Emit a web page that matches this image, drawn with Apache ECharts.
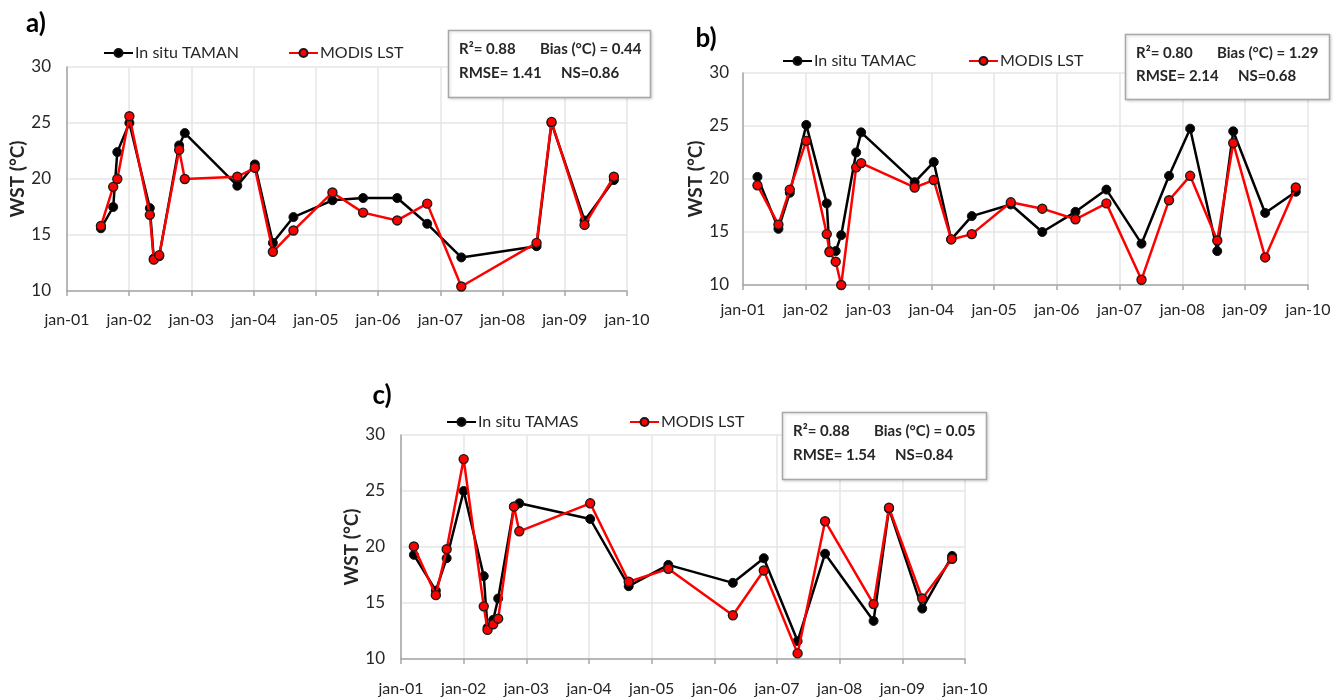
<!DOCTYPE html>
<html>
<head>
<meta charset="utf-8">
<title>WST: in situ vs MODIS LST</title>
<script src="https://cdn.jsdelivr.net/npm/echarts@6/dist/echarts.min.js"></script>
<style>
  html, body { margin: 0; padding: 0; background: #ffffff; }
  #chart { width: 1342px; height: 700px; }
</style>
</head>
<body>
<div id="chart"></div>
<script>
// ---- Data -----------------------------------------------------------------
// Station TAMAN (panel a)
const datesA = ['2001-07-19', '2001-09-29', '2001-10-23', '2002-01-02', '2002-05-02', '2002-05-25',
  '2002-06-26', '2002-10-21', '2002-11-23', '2003-09-27', '2004-01-08', '2004-04-23', '2004-08-22',
  '2005-04-08', '2005-10-05', '2006-04-23', '2006-10-16', '2007-05-04', '2008-07-19', '2008-10-15',
  '2009-04-27', '2009-10-16'];
const insituA = [15.6, 17.5, 22.4, 25.0, 17.4, 12.9, 13.1, 23.0, 24.1, 19.4, 21.3, 14.3, 16.6,
  18.1, 18.3, 18.3, 16.0, 13.0, 14.0, 25.0, 16.3, 19.9];
const modisA = [15.8, 19.3, 20.0, 25.6, 16.8, 12.8, 13.2, 22.6, 20.0, 20.2, 21.0, 13.5, 15.4,
  18.8, 17.0, 16.3, 17.8, 10.4, 14.3, 25.1, 15.9, 20.2];

// Station TAMAC (panel b)
const datesB = ['2001-03-26', '2001-07-26', '2001-09-30', '2002-01-04', '2002-05-03', '2002-05-19',
  '2002-06-24', '2002-07-26', '2002-10-21', '2002-11-19', '2003-09-26', '2004-01-15', '2004-04-26',
  '2004-08-24', '2005-04-08', '2005-10-08', '2006-04-19', '2006-10-16', '2007-05-08', '2007-10-15',
  '2008-02-15', '2008-07-22', '2008-10-23', '2009-04-27', '2009-10-22'];
const insituB = [20.2, 15.3, 18.7, 25.1, 17.7, 13.2, 13.2, 14.7, 22.5, 24.4, 19.7, 21.6, 14.3,
  16.5, 17.6, 15.0, 16.9, 19.0, 13.9, 20.3, 24.75, 13.2, 24.5, 16.8, 18.8];
const modisB = [19.4, 15.7, 19.0, 23.6, 14.8, 13.1, 12.2, 10.0, 21.1, 21.5, 19.2, 19.9, 14.3,
  14.8, 17.8, 17.2, 16.2, 17.7, 10.5, 18.0, 20.3, 14.2, 23.4, 12.6, 19.2];

// Station TAMAS (panel c)
const datesC = ['2001-03-17', '2001-07-23', '2001-09-24', '2002-01-01', '2002-04-28', '2002-05-20',
  '2002-06-22', '2002-07-21', '2002-10-21', '2002-11-21', '2004-01-08', '2004-08-20', '2005-04-08',
  '2006-04-19', '2006-10-16', '2007-05-01', '2007-10-08', '2008-07-17', '2008-10-15', '2009-04-27',
  '2009-10-18'];
const insituC = [19.3, 16.1, 19.0, 25.0, 17.4, 12.8, 13.5, 15.4, 23.6, 23.9, 22.5, 16.5, 18.4,
  16.8, 19.0, 11.6, 19.4, 13.4, 23.4, 14.5, 19.2];
const modisC = [20.05, 15.7, 19.8, 27.85, 14.7, 12.6, 13.1, 13.6, 23.6, 21.4, 23.9, 16.9, 18.05,
  13.9, 17.9, 10.5, 22.3, 14.9, 23.5, 15.4, 18.95];

// Axis ranges and tick labels
const yearMin = 2001, yearMax = 2010;
const tempMin = 10, tempMax = 30, tempStep = 5;
const insituNames = ['In situ TAMAN', 'In situ TAMAC', 'In situ TAMAS'];
const modisName = 'MODIS LST';
const panelTags = ['a)', 'b)', 'c)'];

// Goodness-of-fit statistics per station: [R², bias, RMSE, NS]
const statsA = ['0.88', '0.44', '1.41', '0.86'];
const statsB = ['0.80', '1.29', '2.14', '0.68'];
const statsC = ['0.88', '0.05', '1.54', '0.84'];

// ---- Helpers ---------------------------------------------------------------
function toYear(s) {
  const [y, m, d] = s.split('-').map(Number);
  const start = Date.UTC(y, 0, 1), end = Date.UTC(y + 1, 0, 1);
  return y + (Date.UTC(y, m - 1, d) - start) / (end - start);
}
function pairs(dates, vals) {
  return dates.map((d, i) => [toYear(d), vals[i]]);
}

const FONT = 'Lato, "Open Sans", "Liberation Sans", sans-serif';
const TEXT = '#262626';

// Plot areas in pixels
const panels = [
  { grid: { left: 67, top: 67, width: 560, height: 224 }, xMargin: 21, yMargin: 16, nameGap: 37,
    legend: [103, 45, 288], tag: [36, 24], box: [448, 30, 202, 67], stats: statsA,
    dates: datesA, insitu: insituA, modis: modisA },
  { grid: { left: 743, top: 73, width: 565, height: 212 }, xMargin: 17, yMargin: 14, nameGap: 37,
    legend: [782, 53, 968], tag: [706, 39], box: [1125, 34, 204, 65], stats: statsB,
    dates: datesB, insitu: insituB, modis: modisB },
  { grid: { left: 401, top: 435, width: 564, height: 224 }, xMargin: 22, yMargin: 16, nameGap: 34,
    legend: [446, 414, 629], tag: [382, 396], box: [782, 412, 204, 67], stats: statsC,
    dates: datesC, insitu: insituC, modis: modisC }
];

const grids = [], xAxes = [], yAxes = [], series = [], legends = [], graphics = [];

panels.forEach((p, i) => {
  grids.push(Object.assign({ containLabel: false }, p.grid));

  xAxes.push({
    type: 'value', gridIndex: i, min: yearMin, max: yearMax, interval: 1,
    axisLine: { show: true, lineStyle: { color: '#a6a6a6', width: 1.5 } },
    axisTick: { show: true, length: 5, lineStyle: { color: '#a6a6a6', width: 1.5 } },
    splitLine: { show: true, lineStyle: { color: '#e6e6e6', width: 1.5 } },
    axisLabel: {
      margin: p.xMargin, color: TEXT, fontSize: 16, fontFamily: FONT,
      formatter: v => 'jan-' + String(Math.round(v)).slice(2)
    }
  });

  yAxes.push({
    type: 'value', gridIndex: i, min: tempMin, max: tempMax, interval: tempStep,
    name: 'WST (°C)', nameLocation: 'middle', nameGap: p.nameGap, nameRotate: 90,
    nameTextStyle: { fontSize: 19, fontWeight: 'bold', color: TEXT, fontFamily: FONT },
    axisLine: { show: true, lineStyle: { color: '#a6a6a6', width: 1.5 } },
    axisTick: { show: false },
    splitLine: { show: true, lineStyle: { color: '#e6e6e6', width: 1.5 } },
    axisLabel: { margin: p.yMargin, color: TEXT, fontSize: 17, fontFamily: FONT }
  });

  series.push({
    name: insituNames[i], type: 'line', xAxisIndex: i, yAxisIndex: i,
    data: pairs(p.dates, p.insitu),
    symbol: 'circle', symbolSize: 9,
    lineStyle: { color: '#000000', width: 2.5 },
    itemStyle: { color: '#000000', borderColor: '#111111', borderWidth: 1 },
    emphasis: { disabled: true }, animation: false, z: 2
  });
  series.push({
    name: modisName, type: 'line', xAxisIndex: i, yAxisIndex: i,
    data: pairs(p.dates, p.modis),
    symbol: 'circle', symbolSize: 9,
    lineStyle: { color: '#ff0000', width: 2.5 },
    itemStyle: { color: '#ff0000', borderColor: '#1a1a1a', borderWidth: 1.4 },
    emphasis: { disabled: true }, animation: false, z: 3
  });

  const legendCommon = {
    top: p.legend[1], itemWidth: 29, itemHeight: 10, itemGap: 0, padding: 0, selectedMode: false,
    textStyle: { fontSize: 16, color: TEXT, fontFamily: FONT, padding: [0, 0, 0, -3] }
  };
  legends.push(Object.assign({ left: p.legend[0], data: [insituNames[i]] }, legendCommon));
  legends.push(Object.assign({ left: p.legend[2], data: [modisName] }, legendCommon));

  // Panel tag
  graphics.push({
    type: 'text', x: p.tag[0], y: p.tag[1], silent: true,
    style: { text: panelTags[i], fontSize: 26, fontWeight: 'bold', fontFamily: FONT,
      fill: '#000', align: 'center', verticalAlign: 'middle' }
  });

  // Statistics box
  const [bx, by, bw, bh] = p.box;
  graphics.push({
    type: 'rect', silent: true, z: 10,
    shape: { x: bx + 0.5, y: by + 0.5, width: bw, height: bh },
    style: { fill: '#ffffff', stroke: '#a8a8a8', lineWidth: 1.5,
      shadowBlur: 3, shadowColor: 'rgba(0,0,0,0.15)', shadowOffsetX: 1, shadowOffsetY: 1 }
  });
  const st = p.stats;
  const line1 = by + bh * 0.29, line2 = by + bh * 0.65;
  const statText = (x, y, t) => ({
    type: 'text', x: x, y: y, silent: true, z: 11,
    style: { text: t, fontSize: 15, fontWeight: 'bold', fontFamily: FONT, fill: TEXT,
      align: 'left', verticalAlign: 'middle' }
  });
  graphics.push(statText(bx + 11, line1, 'R²= ' + st[0]));
  graphics.push(statText(bx + 92, line1, 'Bias (°C) = ' + st[1]));
  graphics.push(statText(bx + 11, line2, 'RMSE= ' + st[2]));
  graphics.push(statText(bx + 113, line2, 'NS=' + st[3]));
});

const chart = echarts.init(document.getElementById('chart'), null, { renderer: 'canvas' });
chart.setOption({
  backgroundColor: '#ffffff',
  animation: false,
  textStyle: { fontFamily: FONT },
  grid: grids,
  xAxis: xAxes,
  yAxis: yAxes,
  legend: legends,
  series: series,
  graphic: graphics
});
</script>
</body>
</html>
